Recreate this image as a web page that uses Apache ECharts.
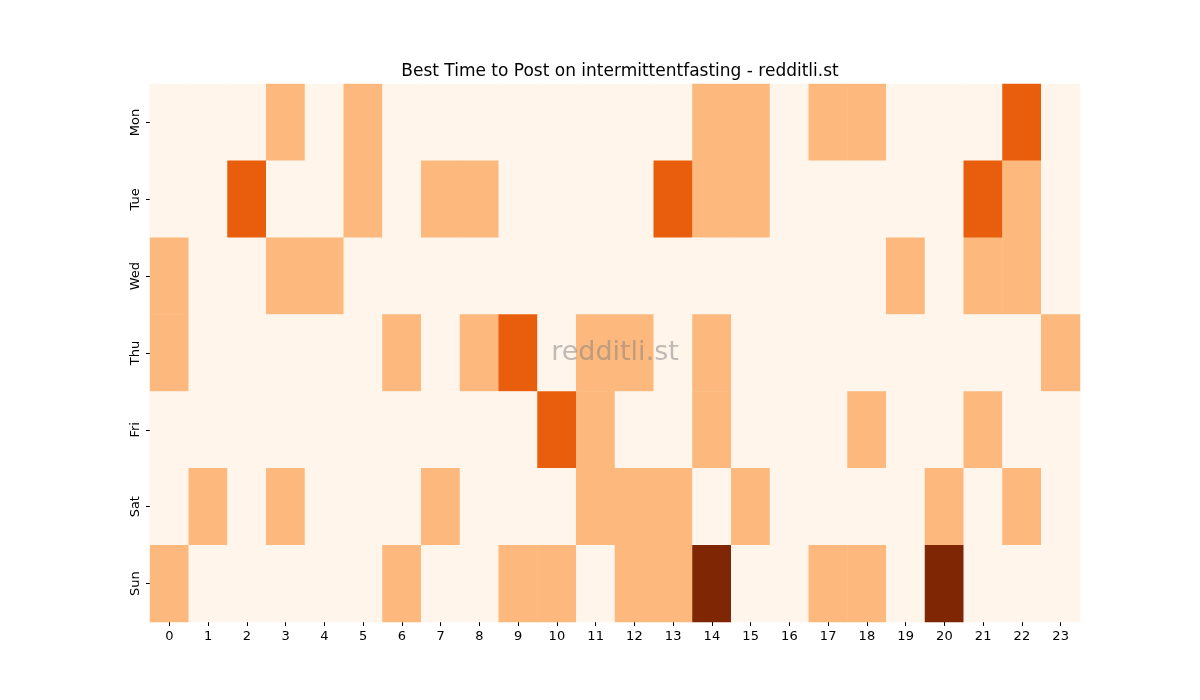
<!DOCTYPE html>
<html>
<head>
<meta charset="utf-8">
<script src="https://cdn.jsdelivr.net/npm/echarts@6/dist/echarts.min.js"></script>
<style>html,body{margin:0;padding:0;background:#fff;}#c{width:1200px;height:700px;}</style>
</head>
<body>
<div id="c"></div>
<script>
const hours = ['0','1','2','3','4','5','6','7','8','9','10','11','12','13','14','15','16','17','18','19','20','21','22','23'];
const days = ['Mon','Tue','Wed','Thu','Fri','Sat','Sun'];
const mon = [0,0,0,1,0,1,0,0,0,0,0,0,0,0,1,1,0,1,1,0,0,0,2,0];
const tue = [0,0,2,0,0,1,0,1,1,0,0,0,0,2,1,1,0,0,0,0,0,2,1,0];
const wed = [1,0,0,1,1,0,0,0,0,0,0,0,0,0,0,0,0,0,0,1,0,1,1,0];
const thu = [1,0,0,0,0,0,1,0,1,2,0,1,1,0,1,0,0,0,0,0,0,0,0,1];
const fri = [0,0,0,0,0,0,0,0,0,0,2,1,0,0,1,0,0,0,1,0,0,1,0,0];
const sat = [0,1,0,1,0,0,0,1,0,0,0,1,1,1,0,1,0,0,0,0,1,0,1,0];
const sun = [1,0,0,0,0,0,1,0,0,1,1,0,1,1,3,0,0,1,1,0,3,0,0,0];
const rows = [mon, tue, wed, thu, fri, sat, sun];

const data = [];
rows.forEach((r, yi) => r.forEach((v, xi) => data.push([xi, yi, v])));

const chart = echarts.init(document.getElementById('c'));
const font = 'DejaVu Sans';
chart.setOption({
  animation: false,
  textStyle: {fontFamily: font},
  title: {
    text: 'Best Time to Post on intermittentfasting - redditli.st',
    left: 615, top: 58, textAlign: 'center',
    textStyle: {fontFamily: font, fontSize: 17, fontWeight: 'normal', color: '#000'}
  },
  grid: {left: 150, right: 120, top: 84, bottom: 78},
  xAxis: {
    type: 'category', data: hours,
    axisLine: {show: false},
    axisTick: {show: true, alignWithLabel: true, length: 4, lineStyle: {color: '#000'}},
    axisLabel: {fontFamily: font, fontSize: 13, color: '#000', margin: 8},
    splitLine: {show: false}
  },
  yAxis: {
    type: 'category', data: days, inverse: true,
    axisLine: {show: false},
    axisTick: {show: true, alignWithLabel: true, length: 4, lineStyle: {color: '#000'}},
    axisLabel: {fontFamily: font, fontSize: 13, color: '#000', rotate: 90, margin: 8},
    splitLine: {show: false}
  },
  visualMap: {
    show: false, type: 'piecewise', dimension: 2,
    pieces: [
      {value: 0, color: '#fff5eb'},
      {value: 1, color: '#fdb97d'},
      {value: 2, color: '#e95e0d'},
      {value: 3, color: '#7f2704'}
    ]
  },
  series: [{
    type: 'heatmap', data: data,
    itemStyle: {borderWidth: 0},
    emphasis: {disabled: true}
  }],
  graphic: [{
    type: 'text', x: 615, y: 353, z: 100,
    style: {
      text: 'redditli.st',
      font: '27px "DejaVu Sans"', fill: 'rgba(128,128,128,0.5)',
      textAlign: 'center', textVerticalAlign: 'middle'
    }
  }]
});
</script>
</body>
</html>
